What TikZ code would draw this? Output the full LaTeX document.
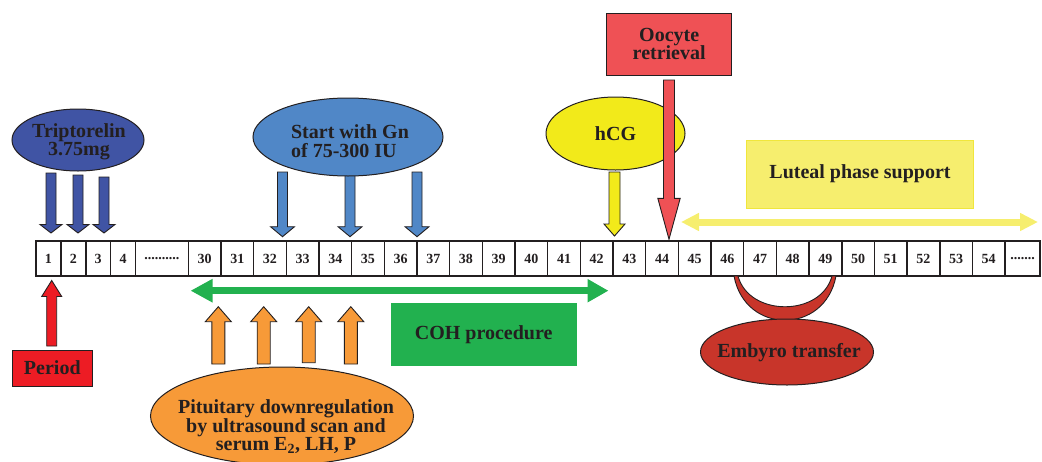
\documentclass[tikz,border=0pt]{standalone}
\usepackage{fontspec}
\setmainfont{Liberation Serif}
\usetikzlibrary{shapes.geometric,arrows.meta,calc}

\definecolor{ink}{HTML}{231F20}
\definecolor{tripblue}{HTML}{4054A4}
\definecolor{gnblue}{HTML}{5087C7}
\definecolor{hcgyellow}{HTML}{F2EA1A}
\definecolor{oocred}{HTML}{EF5155}
\definecolor{lutyellow}{HTML}{F6EE6E}
\definecolor{lutedge}{HTML}{F0E63C}
\definecolor{cohgreen}{HTML}{22B14F}
\definecolor{pitorange}{HTML}{F79A38}
\definecolor{perred}{HTML}{ED1C24}
\definecolor{embred}{HTML}{C8352A}

\tikzset{
	cell/.style={draw=ink, line width=1.6pt, minimum height=35pt, inner sep=0pt, outer sep=0pt,
		font=\bfseries\fontsize{14}{14}\selectfont, text=ink},
	lbl/.style={font=\bfseries\fontsize{20}{18.5}\selectfont, text=ink, align=center, inner sep=0pt},
	oval/.style={ellipse, draw=ink, line width=1pt, inner sep=0pt},
	tag/.style={lbl, rectangle, draw=ink, line width=1pt},
	barrow/.style={draw=ink, line width=0.9pt, line join=miter},
	spanline/.style={line width=7pt},
}

% [style] start, tip, shaft half width, head half width, head length
\newcommand\blockarrow[6][]{%
	\filldraw[barrow,#1] ($(#2)+(-#4,0)$) -- ($(#3)!#6!(#2)+(-#4,0)$) -- ($(#3)!#6!(#2)+(-#5,0)$)
	-- (#3) -- ($(#3)!#6!(#2)+(#5,0)$) -- ($(#3)!#6!(#2)+(#4,0)$) -- ($(#2)+(#4,0)$) -- cycle;}

\begin{document}
\begin{tikzpicture}[x=1pt,y=-1pt]
		\useasboundingbox (0,0) rectangle (1042,461);
		%timeline
		\foreach \i in {1,...,4}
			\node[cell, minimum width=24.875pt] (c\i) at ({36+(\i-0.5)*24.875},258.5) {\i};
		\node[cell, minimum width=52.8pt] (cdots) at (161.9,258.5) {..........};
		\foreach \i in {30,...,54}
			\node[cell, minimum width=32.67pt] (c\i) at ({188.3+(\i-29.5)*32.67},258.5) {\i};
		\node[cell, minimum width=35pt] (cend) at (1022.5,258.5) {.......};
		%triptorelin
		\coordinate (trS1) at (51,173);  \coordinate (trT1) at (51,233);
		\coordinate (trS2) at (78,175);  \coordinate (trT2) at (78,233);
		\coordinate (trS3) at (104,177); \coordinate (trT3) at (104,233);
		\blockarrow[fill=tripblue]{trS1}{trT1}{5}{11}{8.5pt}
		\blockarrow[fill=tripblue]{trS2}{trT2}{5}{11}{8.5pt}
		\blockarrow[fill=tripblue]{trS3}{trT3}{5}{11}{8.5pt}
		\node[oval, fill=tripblue, minimum width=132pt, minimum height=62pt] (trip) at (78,140) {};
		\node[lbl] (tripText) at (79,142) {Triptorelin\\3.75mg};
		%gonadotropin
		\coordinate (gnS1) at (282.5,172); \coordinate (gnT1) at (282.5,236.7);
		\coordinate (gnS2) at (350,175);   \coordinate (gnT2) at (350,236.7);
		\coordinate (gnS3) at (417,172);   \coordinate (gnT3) at (417,236.7);
		\blockarrow[fill=gnblue]{gnS1}{gnT1}{5}{12}{10pt}
		\blockarrow[fill=gnblue]{gnS2}{gnT2}{5}{12}{10pt}
		\blockarrow[fill=gnblue]{gnS3}{gnT3}{5}{12}{10pt}
		\node[oval, fill=gnblue, minimum width=190pt, minimum height=78pt] (gn) at (348,137) {};
		\node[lbl, align=left] (gnText) at (350,141) {Start with Gn\\of 75-300 IU};
		%hcg
		\coordinate (hcgS) at (614.5,172); \coordinate (hcgT) at (614.5,236);
		\blockarrow[fill=hcgyellow]{hcgS}{hcgT}{5.5}{10.5}{12pt}
		\node[oval, fill=hcgyellow, minimum width=139pt, minimum height=73pt] (hcg) at (615.5,133.5) {};
		\node[lbl] (hcgText) at (hcg) {hCG};
		%oocyte retrieval
		\node[tag, fill=oocred, minimum width=125pt, minimum height=62pt] (ooc) at (669.2,44.2)
			{Oocyte\\retrieval};
		\coordinate (oocS) at (669,80); \coordinate (oocT) at (669,239.3);
		\blockarrow[fill=oocred]{oocS}{oocT}{5.5}{11.2}{41pt}
		%luteal phase
		\node[lbl, fill=lutyellow, draw=lutedge, line width=1pt, minimum width=226.6pt, minimum height=68pt] (lut)
			at (860,174) {Luteal phase support};
		\coordinate (lutL) at (681,222); \coordinate (lutR) at (1038,222);
		\draw[spanline, lutyellow, {Triangle[width=17pt,length=18pt]}-{Triangle[width=17pt,length=18pt]}]
			(lutL) -- (lutR);
		%coh
		\coordinate (cohL) at (190.5,290.7); \coordinate (cohR) at (608.5,290.7);
		\draw[spanline, cohgreen, {Triangle[width=22pt,length=22pt]}-{Triangle[width=22pt,length=21pt]}]
			(cohL) -- (cohR);
		\node[lbl, fill=cohgreen, minimum width=186pt, minimum height=63.3pt] (coh) at (483.7,334.3)
			{COH procedure};
		%pituitary downregulation
		\coordinate (puS1) at (218.3,364); \coordinate (puT1) at (218.3,306.7);
		\coordinate (puS2) at (263.7,364); \coordinate (puT2) at (263.7,306.7);
		\coordinate (puS3) at (308.7,362.7); \coordinate (puT3) at (308.7,306.7);
		\coordinate (puS4) at (350.8,364); \coordinate (puT4) at (350.8,306.7);
		\blockarrow[fill=pitorange]{puS1}{puT1}{6.5}{13}{15pt}
		\blockarrow[fill=pitorange]{puS2}{puT2}{6.5}{13}{15pt}
		\blockarrow[fill=pitorange]{puS3}{puT3}{6.5}{13}{15pt}
		\blockarrow[fill=pitorange]{puS4}{puT4}{6.5}{13}{15pt}
		\node[oval, fill=pitorange, minimum width=263pt, minimum height=98pt] (pit) at (282,416) {};
		\node[lbl] (pitText) at (286,427)
			{Pituitary downregulation\\by ultrasound scan and\\serum E\textsubscript{2}, LH, P};
		%period
		\node[tag, fill=perred, minimum width=80pt, minimum height=36pt] (per) at (52.3,368) {Period};
		\coordinate (perS) at (51.7,346); \coordinate (perT) at (51.7,280.5);
		\blockarrow[fill=perred]{perS}{perT}{5}{10}{16pt}
		%embryo transfer
		\filldraw[barrow, fill=embred] (734,276) .. controls (745,335) and (825,335) .. (836,276)
			-- (832,276) .. controls (821,317) and (749,317) .. (738,276) -- cycle;
		\node[oval, fill=embred, minimum width=173pt, minimum height=66pt] (emb) at (787,352) {};
		\node[lbl] (embText) at (789,353) {Embyro transfer};
	\end{tikzpicture}
\end{document}
